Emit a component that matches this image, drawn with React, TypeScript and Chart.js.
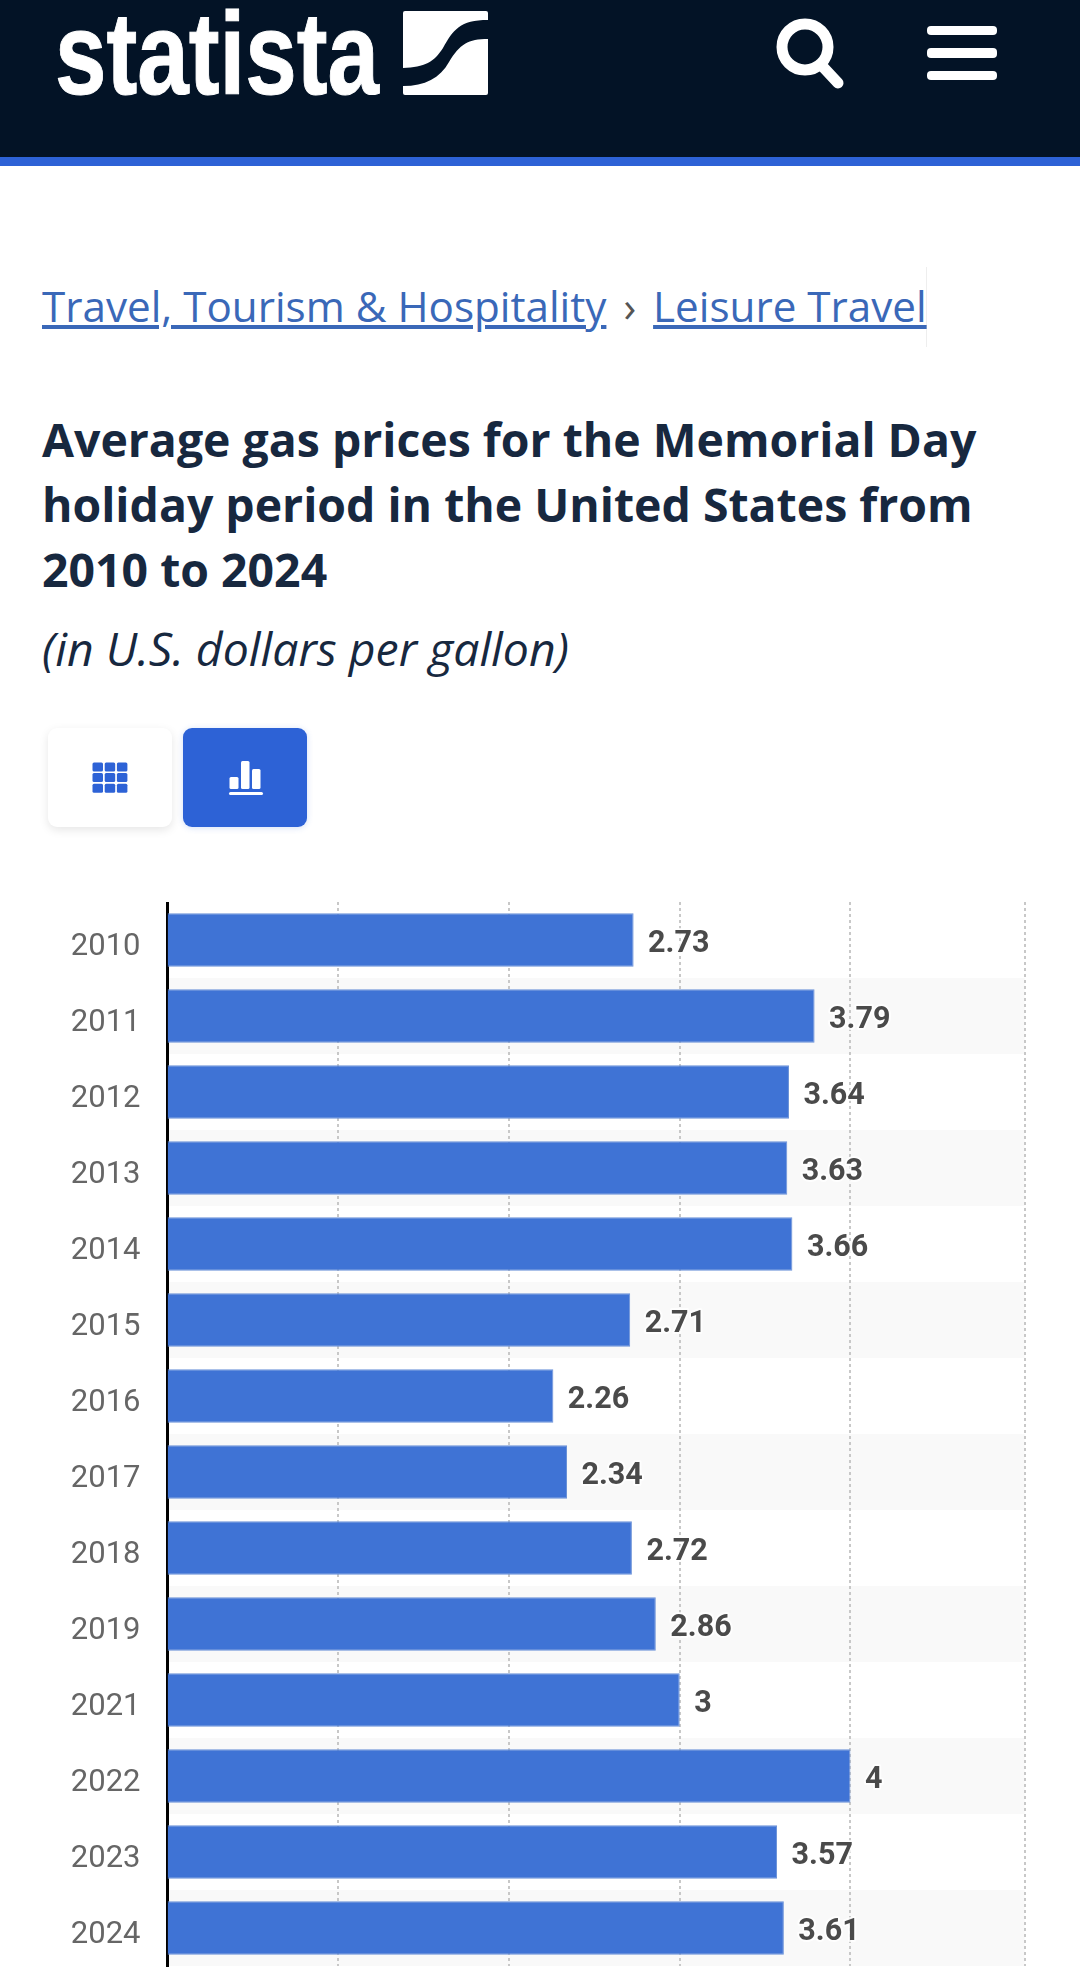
import React, { useEffect, useRef } from "react";
import { Chart, registerables } from "chart.js";

Chart.register(...registerables);

const years = ["2010","2011","2012","2013","2014","2015","2016","2017","2018","2019","2021","2022","2023","2024"];
const prices = [2.73,3.79,3.64,3.63,3.66,2.71,2.26,2.34,2.72,2.86,3,4,3.57,3.61];
const valueLabels = ["2.73","3.79","3.64","3.63","3.66","2.71","2.26","2.34","2.72","2.86","3","4","3.57","3.61"];
const axisMax = 5.02;
const gridTicks = [1,2,3,4,5.02];
const titleLines = ["Average gas prices for the Memorial Day","holiday period in the United States from","2010 to 2024"];

const stripePlugin = {
  id: "stripes",
  beforeDraw(chart: any) {
    const { ctx, chartArea, scales } = chart;
    const y = scales.y;
    const step = y.getPixelForValue(1) - y.getPixelForValue(0);
    ctx.save();
    ctx.fillStyle = "#f9f9f9";
    years.forEach((_, i) => {
      if (i % 2 === 1) {
        ctx.fillRect(chartArea.left, y.getPixelForValue(i) - step / 2, chartArea.right - chartArea.left, step);
      }
    });
    ctx.restore();
  },
};

const valuePlugin = {
  id: "values",
  afterDatasetsDraw(chart: any) {
    const { ctx, scales } = chart;
    ctx.save();
    ctx.font = "bold 30.5px Roboto";
    ctx.textBaseline = "middle";
    ctx.lineJoin = "round";
    prices.forEach((v, i) => {
      const x = scales.x.getPixelForValue(v) + 14.5;
      const y = scales.y.getPixelForValue(i) + 4;
      ctx.lineWidth = 4;
      ctx.strokeStyle = "rgba(255,255,255,0.8)";
      ctx.strokeText(valueLabels[i], x, y);
      ctx.fillStyle = "#4a4a4a";
      ctx.fillText(valueLabels[i], x, y);
    });
    ctx.restore();
  },
};

export default function App() {
  const ref = useRef<HTMLCanvasElement>(null);
  useEffect(() => {
    document.body.style.margin = "0";
    document.body.style.background = "#fff";
    const chart = new Chart(ref.current!, {
      type: "bar",
      data: {
        labels: years,
        datasets: [{
          data: prices,
          backgroundColor: "#3f73d5",
          borderColor: "#6b92d8",
          borderWidth: 1,
          categoryPercentage: 1,
          barPercentage: 0.704,
        }],
      },
      plugins: [stripePlugin, valuePlugin],
      options: {
        indexAxis: "y",
        responsive: false,
        animation: false,
        layout: { autoPadding: false, padding: { left: 0, top: 0, right: 55.4, bottom: 1 } },
        plugins: { legend: { display: false }, tooltip: { enabled: false }, title: { display: false } },
        scales: {
          x: {
            min: 0,
            max: axisMax,
            afterBuildTicks(axis: any) { axis.ticks = gridTicks.map((value) => ({ value })); },
            ticks: { display: false },
            grid: { color: "#c8c8c8", lineWidth: 2, drawTicks: false },
            border: { display: false, dash: [3, 3] },
          },
          y: {
            afterFit(axis: any) {
              axis.width = 167.5;
              axis.paddingTop = 0;
              axis.paddingBottom = 0;
            },
            grid: { display: false, drawTicks: false },
            border: { display: true, color: "#000", width: 3 },
            ticks: { color: "#666", font: { family: "Roboto", size: 31 }, padding: 27, labelOffset: 7, autoSkip: false },
          },
        },
      },
    } as any);
    return () => chart.destroy();
  }, []);

  const abs = (o: React.CSSProperties): React.CSSProperties => ({ position: "absolute", whiteSpace: "nowrap", ...o });
  const titleStyle: React.CSSProperties = { fontFamily: "'Open Sans'", fontWeight: 700, fontSize: 46.4, color: "#17283f", lineHeight: "65px" };

  return (
    <div style={{ position: "relative", width: 1080, height: 1967, overflow: "hidden", background: "#fff" }}>
      <div style={abs({ left: 0, top: 0, width: 1080, height: 157, background: "#031326" })} />
      <div style={abs({ left: 0, top: 157, width: 1080, height: 9, background: "#2d62d6" })} />
      <svg style={abs({ left: 0, top: 0 })} width={1080} height={166}>
        <text x={55} y={94} fill="#fff" stroke="#fff" strokeWidth={1} fontFamily="'Liberation Sans'" fontWeight={700} fontSize={116} textLength={324} lengthAdjust="spacingAndGlyphs">statista</text>
        <rect x={403} y={11} width={85} height={84} rx={2} fill="#fff" />
        <path d="M488 20C460 20 453 30 443 48C434 62 425 67 403 68V86C425 86 440 78 449 62C460 44 468 39 488 39Z" fill="#031326" />
        <circle cx={805} cy={47} r={23} fill="none" stroke="#fff" strokeWidth={11} />
        <line x1={824} y1={68} x2={838} y2={83} stroke="#fff" strokeWidth={11} strokeLinecap="round" />
        <rect x={927} y={26} width={70} height={9} rx={4} fill="#fff" />
        <rect x={927} y={48} width={70} height={10} rx={4} fill="#fff" />
        <rect x={927} y={71} width={70} height={9} rx={4} fill="#fff" />
      </svg>

      <div style={abs({ left: 42, top: 267, width: 884, height: 80, borderRight: "1px solid #eee" })} />
      <div style={abs({ left: 42, top: 278, fontFamily: "'Open Sans'", fontSize: 42.2, lineHeight: "56px", color: "#3a68b8" })}>
        <span style={{ textDecoration: "underline" }}>Travel, Tourism &amp; Hospitality</span>
        <span style={{ color: "#555", padding: "0 17px" }}>›</span>
        <span style={{ textDecoration: "underline" }}>Leisure Travel</span>
      </div>

      {titleLines.map((line, i) => (
        <div key={line} style={abs({ ...titleStyle, left: 42, top: 407 + i * 65 })}>{line}</div>
      ))}
      <div style={abs({ left: 42, top: 617, fontFamily: "'Open Sans'", fontStyle: "italic", fontSize: 46.4, lineHeight: "62px", color: "#17283f" })}>(in U.S. dollars per gallon)</div>

      <div style={abs({ left: 48, top: 728, width: 124, height: 99, background: "#fff", borderRadius: 9, boxShadow: "0 3px 10px rgba(0,0,0,0.1)" })} />
      <div style={abs({ left: 183, top: 728, width: 124, height: 99, background: "#2d62d6", borderRadius: 9, boxShadow: "0 1px 6px rgba(45,98,214,0.2)" })} />
      <svg style={abs({ left: 0, top: 700 })} width={400} height={140}>
        {[0, 1, 2].map((r) => [0, 1, 2].map((c) => (
          <rect key={`${r}-${c}`} x={92.5 + c * 12.2} y={62.5 + r * 10.6} width={10.5} height={9} rx={1.5} fill="#2d62d6" />
        )))}
        <rect x={229.5} y={77} width={9} height={12} rx={1.5} fill="#fff" />
        <rect x={241} y={61} width={8.5} height={28} rx={1.5} fill="#fff" />
        <rect x={252} y={69} width={8.5} height={20} rx={1.5} fill="#fff" />
        <rect x={229} y={92} width={34} height={3} rx={1.5} fill="#fff" />
      </svg>

      <canvas ref={ref} width={1080} height={1065} style={abs({ left: 0, top: 902, display: "block" })} />
    </div>
  );
}
